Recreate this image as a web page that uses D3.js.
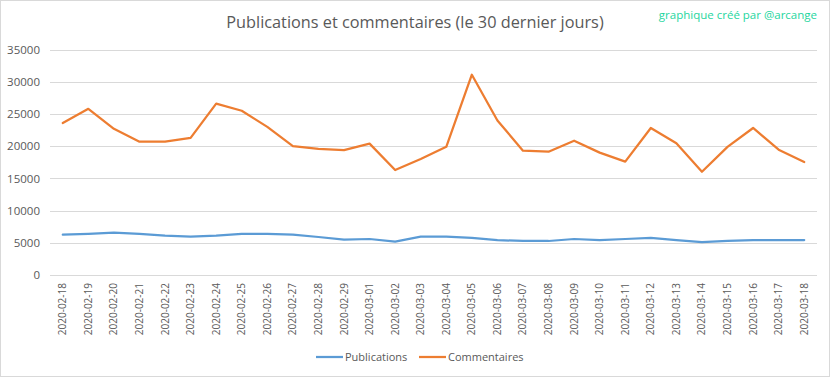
<!DOCTYPE html>
<html><head><meta charset="utf-8">
<script src="https://cdn.jsdelivr.net/npm/d3@7"></script>
<style>body{margin:0;background:#fff}svg{display:block}</style>
</head><body>
<script>
const dates = ["2020-02-18","2020-02-19","2020-02-20","2020-02-21","2020-02-22","2020-02-23","2020-02-24","2020-02-25","2020-02-26","2020-02-27","2020-02-28","2020-02-29","2020-03-01","2020-03-02","2020-03-03","2020-03-04","2020-03-05","2020-03-06","2020-03-07","2020-03-08","2020-03-09","2020-03-10","2020-03-11","2020-03-12","2020-03-13","2020-03-14","2020-03-15","2020-03-16","2020-03-17","2020-03-18"];
const publications = [6260,6400,6570,6400,6100,5950,6100,6400,6400,6260,5900,5480,5590,5170,5950,5950,5750,5430,5280,5280,5590,5430,5590,5750,5430,5120,5280,5430,5430,5430];
const commentaires = [23600,25800,22700,20700,20700,21300,26600,25500,23000,20000,19600,19400,20400,16300,18000,19900,31100,24000,19300,19150,20850,19000,17600,22830,20450,16040,19900,22830,19460,17550];
const yTicks = [0,5000,10000,15000,20000,25000,30000,35000];
const seriesNames = ["Publications","Commentaires"];
const colors = ["#5B9BD5","#ED7D31"];

const W = 832, H = 378;
const m = {left:50, right:W-817, top:49.6, bottom:H-275};
const svg = d3.select("body").append("svg").attr("width",W).attr("height",H);
const font = "'Open Sans', 'Liberation Sans', sans-serif";

svg.append("rect").attr("x",0.5).attr("y",0.5).attr("width",829).attr("height",376)
  .attr("fill","#fff").attr("stroke","#d9d9d9");

const x = d3.scaleBand().domain(dates).range([m.left, W-m.right]);
const y = d3.scaleLinear().domain([0,35000]).range([H-m.bottom, m.top]);

// gridlines
svg.append("g").selectAll("line").data(yTicks).join("line")
  .attr("x1",m.left).attr("x2",W-m.right)
  .attr("y1",d=>Math.round(y(d))+0.5).attr("y2",d=>Math.round(y(d))+0.5)
  .attr("stroke","#d9d9d9").attr("stroke-width",1);

// y axis labels
const yAxis = d3.axisLeft(y).tickValues(yTicks).tickSize(0).tickPadding(10).tickFormat(d3.format("d"));
const gy = svg.append("g").attr("transform",`translate(${m.left},0)`).call(yAxis);
gy.select(".domain").remove();
gy.selectAll("text").attr("fill","#595959").style("font-family",font).style("font-size","11.5px");

// x axis labels
const xAxis = d3.axisBottom(x).tickSize(0).tickPadding(0);
const gx = svg.append("g").attr("transform",`translate(0,${H-m.bottom})`).call(xAxis);
gx.select(".domain").remove();
gx.selectAll("text").attr("fill","#595959").style("font-family",font).style("font-size","10px")
  .attr("transform","rotate(-90)").attr("text-anchor","end").attr("x",-8).attr("y",0).attr("dy","0.35em");

// lines
const series = [publications, commentaires];
const line = d3.line().x((d,i)=>x(dates[i])+x.bandwidth()/2).y(d=>y(d));
series.forEach((s,k)=>{
  svg.append("path").datum(s).attr("d",line).attr("fill","none")
    .attr("stroke",colors[k]).attr("stroke-width",2.25).attr("stroke-linejoin","round").attr("stroke-linecap","round");
});

// title
svg.append("text").attr("x",415).attr("y",28).attr("text-anchor","middle")
  .attr("fill","#595959").style("font-family",font).style("font-size","16.3px")
  .text("Publications et commentaires (le 30 dernier jours)");
svg.append("text").attr("x",817).attr("y",19).attr("text-anchor","end")
  .attr("fill","#1ED69E").style("font-family",font).style("font-size","11.5px")
  .text("graphique créé par @arcange");

// legend
const legX = [316, 419];
seriesNames.forEach((n,k)=>{
  svg.append("line").attr("x1",legX[k]).attr("x2",legX[k]+27).attr("y1",357).attr("y2",357)
    .attr("stroke",colors[k]).attr("stroke-width",2.25);
  svg.append("text").attr("x",legX[k]+29).attr("y",357).attr("dy","0.35em")
    .attr("fill","#595959").style("font-family",font).style("font-size","11px").text(n);
});
</script>
</body></html>
